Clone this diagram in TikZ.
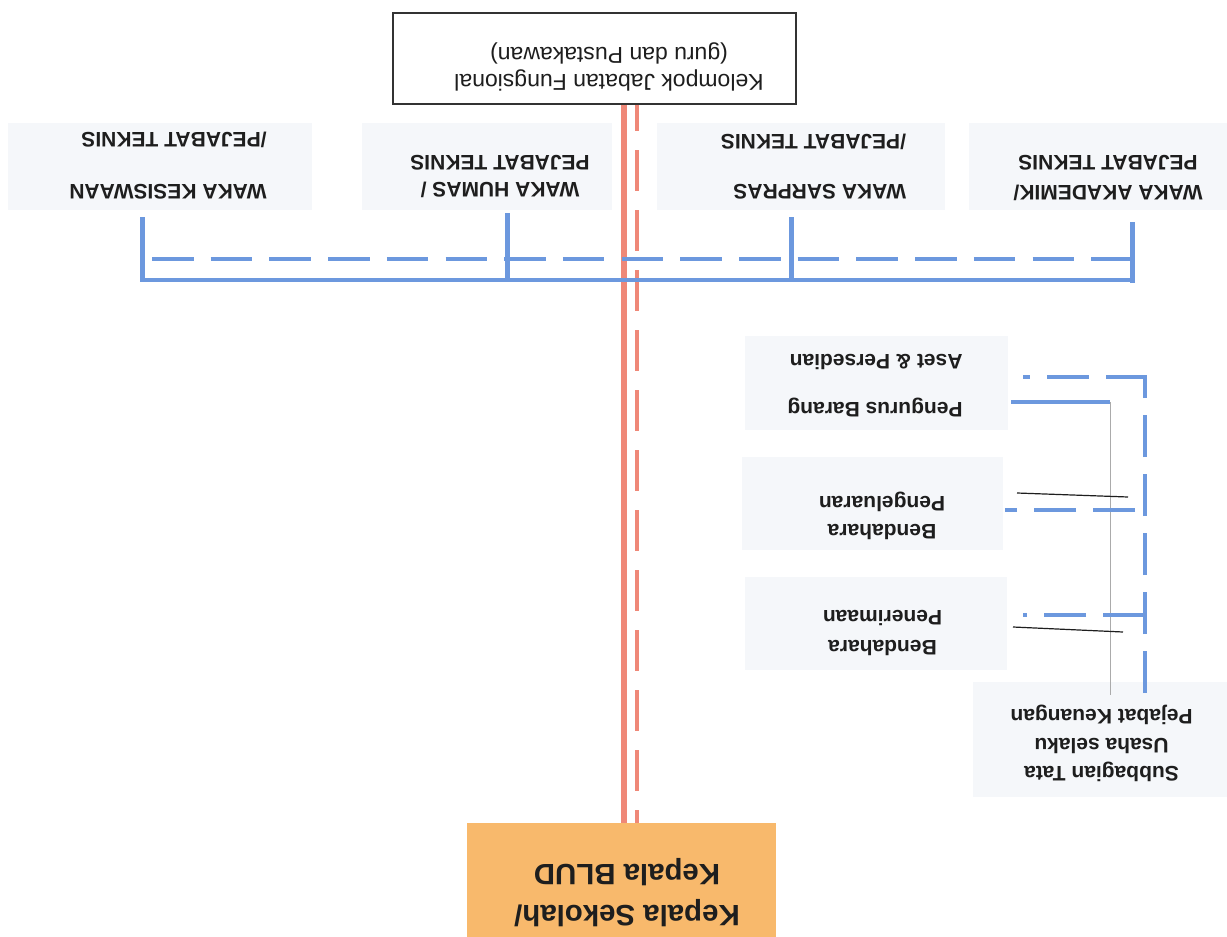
\documentclass[tikz,border=0pt]{standalone}
\usepackage{fontspec}
\setmainfont{Liberation Sans}
\usetikzlibrary{calc}
\definecolor{bluel}{HTML}{6C98DE}
\definecolor{redl}{HTML}{EF8878}
\definecolor{boxfill}{HTML}{F5F7FA}
\definecolor{orangefill}{HTML}{F8B96C}
\definecolor{inkc}{HTML}{1E1E1E}
\begin{document}
\begin{tikzpicture}[x=0.5pt,y=-0.5pt,
  box/.style={fill=boxfill, draw=none, inner sep=0pt},
  txt/.style={rotate=180, inner sep=0pt, text=inkc, font=\fontsize{10.5pt}{12.6pt}\selectfont\bfseries},
  bluesolid/.style={draw=bluel, line width=2pt, line join=miter},
  bluevert/.style={draw=bluel, line width=2.5pt},
  bluedash/.style={draw=bluel, line width=2pt, dash pattern=on 20.75pt off 8.6pt},
  bluedashr/.style={draw=bluel, line width=2pt, dash pattern=on 21pt off 8.5pt},
  redsolid/.style={draw=redl, line width=2.6pt},
  reddash/.style={draw=redl, line width=2.4pt, dash pattern=on 20.5pt off 9.5pt, dash phase=7.5pt},
  thinblack/.style={draw=inkc, line width=0.6pt},
  thingray/.style={draw=black!33, line width=0.5pt}]
\useasboundingbox (0,0) rectangle (1227,937);
\fill[white] (0,0) rectangle (1227,937);

% boxes
\node[draw=black!80, line width=1pt, fill=white, inner sep=0pt, minimum width=201.5pt, minimum height=45.5pt] (fung) at (594.5,58.5) {};
\node[box, minimum width=152pt, minimum height=43.5pt] (kes) at (160,166.5) {};
\node[box, minimum width=125pt, minimum height=43.5pt] (hum) at (487,166.5) {};
\node[box, minimum width=144pt, minimum height=43.5pt] (sar) at (801,166.5) {};
\node[box, minimum width=129pt, minimum height=43.5pt] (aka) at (1098,166.5) {};
\node[box, minimum width=131.5pt, minimum height=47pt] (pb) at (876.5,383) {};
\node[box, minimum width=130.5pt, minimum height=46.5pt] (bpk) at (872.5,503.5) {};
\node[box, minimum width=131pt, minimum height=46.5pt] (bpn) at (876,623.5) {};
\node[box, minimum width=127pt, minimum height=57.5pt] (sub) at (1100,739.5) {};
\node[fill=orangefill, draw=none, inner sep=0pt, minimum width=154.5pt, minimum height=57pt] (kep) at (621.5,880) {};

% texts
\node[txt, font=\fontsize{11.5pt}{13.5pt}\selectfont, align=center] (fungT) at (609,66.5) {Kelompok Jabatan Fungsional\\(guru dan Pustakawan)};
\node[txt, align=left] (kesT) at (168,166) {WAKA KESISWAAN\\[13.4pt]/PEJABAT TEKNIS};
\node[txt, align=center] (humT) at (500,176.5) {WAKA HUMAS /\\[0.9pt]PEJABAT TEKNIS};
\node[txt, align=left] (sarT) at (813.5,167) {WAKA SARPRAS\\[12.4pt]/PEJABAT TEKNIS};
\node[txt, align=center] (akaT) at (1108,178) {WAKA AKADEMIK/\\[2.4pt]PEJABAT TEKNIS};
\node[txt, align=left] (pbT) at (875,386) {Pengurus Barang\\[11.4pt]Aset \& Persedian};
\node[txt, align=center] (bpkT) at (882,516) {Bendahara\\[1.4pt]Pengeluaran};
\node[txt, align=center] (bpnT) at (882.5,633) {Bendahara\\[2.4pt]Penerimaan};
\node[txt, align=center] (subT) at (1101.5,743.5) {Subbagian Tata\\[1.6pt]Usaha selaku\\[1.6pt]Pejabat Keuangan};
\node[txt, font=\fontsize{14.7pt}{20.5pt}\selectfont\bfseries, align=center] (kepT) at (627,892.5) {Kepala Sekolah/\\Kepala BLUD};

% red connectors
\coordinate (rs) at (624,0);
\coordinate (rd) at (637,0);
\draw[redsolid] (fung.south -| rs) -- (kep.north -| rs);
\draw[reddash] (fung.south -| rd) -- (kep.north -| rd);

% blue bus
\coordinate (bk) at (142,280);
\coordinate (bh) at (507,280);
\coordinate (bs) at (791,280);
\coordinate (ba) at (1132,280);
\draw[bluesolid] ([yshift=-3.5pt]kes.south -| bk) -- (bk) -- (ba) -- ([yshift=-6pt]aka.south -| ba);
\draw[bluevert] ([yshift=-1.5pt]hum.south -| bh) -- (bh);
\draw[bluevert] ([yshift=-3.5pt]sar.south -| bs) -- (bs);
\draw[bluevert] ([yshift=-3.5pt]kes.south -| bk) -- (bk);
\draw[bluevert] ([yshift=-6pt]aka.south -| ba) -- ($(ba)+(0,3)$);
\coordinate (dl) at (152,259);
\coordinate (dr) at (1130,259);
\draw[bluedash] (dl) -- (dr);

% right side connectors
\coordinate (vb) at (1145,693);
\coordinate (vt) at (1145,375);
\coordinate (ht) at (1023,377);
\coordinate (htr) at (1147,377);
\draw[bluedashr] (vb) -- (vt);
\draw[bluedashr, dash phase=17.5pt] (ht) -- (htr);
\coordinate (pbj) at (1110,402);
\draw[bluesolid] ([xshift=1.5pt]pb.east |- pbj) -- (pbj);
\draw[thingray] (pbj) -- ([yshift=-6.5pt]sub.north -| pbj);
\coordinate (kj) at (1135,510);
\draw[bluedashr] (kj) -- ([xshift=1pt]bpk.east |- kj);
\coordinate (nj) at (1145,615);
\draw[bluedashr] (nj) -- (1023,615);
\coordinate (kb1) at (1017,493);
\coordinate (kb2) at (1128,497);
\draw[thinblack] (kb1) -- (kb2);
\coordinate (nb1) at (1013,627);
\coordinate (nb2) at (1123,632);
\draw[thinblack] (nb1) -- (nb2);
\end{tikzpicture}
\end{document}
